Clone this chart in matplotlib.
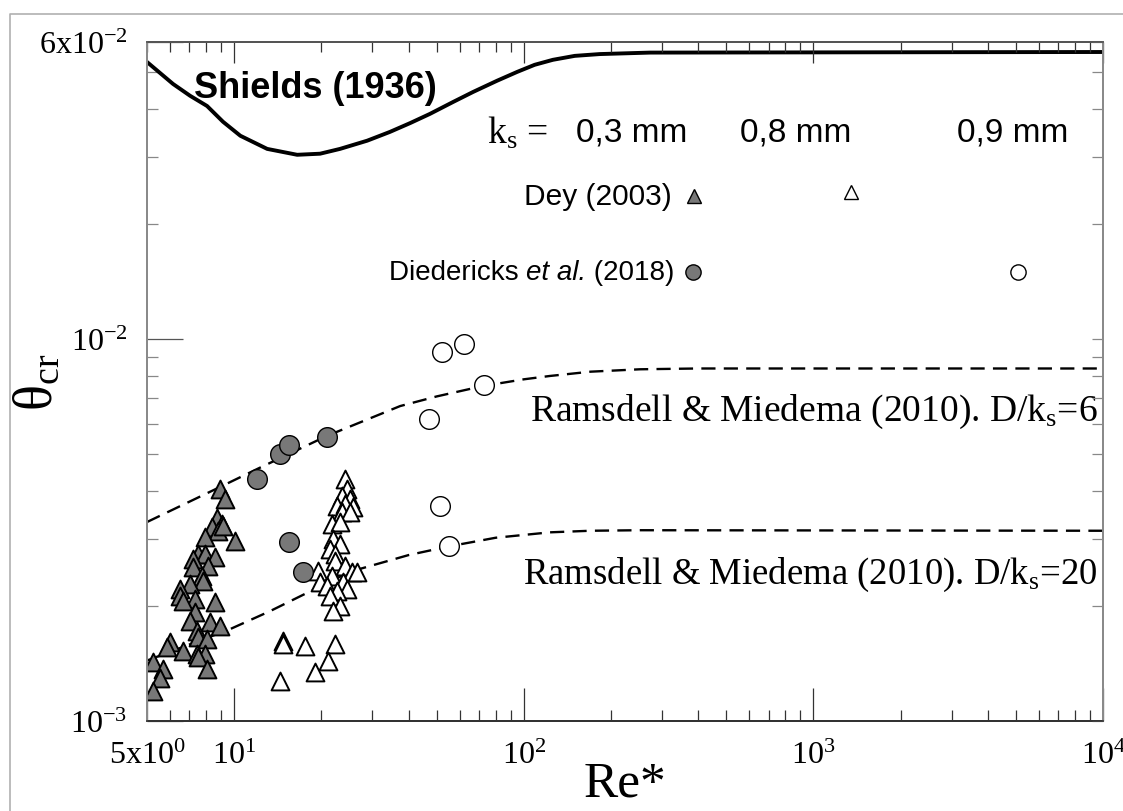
import matplotlib
matplotlib.use("Agg")
import matplotlib.pyplot as plt
from matplotlib.lines import Line2D

plt.rcParams["mathtext.fontset"] = "custom"
plt.rcParams["mathtext.rm"] = "Liberation Serif"
plt.rcParams["mathtext.it"] = "Liberation Serif:italic"

# Shields (1936) curve
shields_re = [5.0, 6.15, 7.04, 8.06, 9.15, 10.5, 13.0, 16.5, 19.8, 23.2, 28.8, 34.5, 40.5,
              47.4, 57.0, 66.8, 80.8, 94.8, 109, 126, 150, 183, 273, 1e4]
shields_theta = [0.0532, 0.0466, 0.0434, 0.0408, 0.0371, 0.0341, 0.0315, 0.0304, 0.0306,
                 0.0315, 0.0331, 0.0349, 0.0368, 0.0389, 0.0418, 0.0444, 0.0475, 0.0501,
                 0.0523, 0.0539, 0.0552, 0.0558, 0.0563, 0.0565]

# Ramsdell & Miedema (2010), D/ks = 6 and D/ks = 20
rm6_re = [5.0, 8.93, 12.0, 20.9, 37.4, 50, 72.3, 100, 123, 170, 252, 400, 1e4]
rm6_theta = [3.32e-3, 4.10e-3, 4.57e-3, 5.58e-3, 6.68e-3, 7.08e-3, 7.54e-3, 7.85e-3, 8.01e-3,
             8.22e-3, 8.34e-3, 8.38e-3, 8.38e-3]
rm20_re = [5.0, 9.67, 13.3, 25.1, 40, 55.6, 80, 123, 170, 252, 1e4]
rm20_theta = [1.44e-3, 1.74e-3, 1.94e-3, 2.46e-3, 2.72e-3, 2.87e-3, 3.02e-3, 3.12e-3,
              3.15e-3, 3.16e-3, 3.15e-3]

# Dey (2003), ks = 0.3 mm  (theta in units of 1e-3)
dey03_re = [8.93, 9.30, 8.72, 9.08, 8.38, 8.79, 9.15, 7.93, 10.07, 7.50, 7.93, 7.21, 8.59,
            7.21, 8.12, 7.74, 7.80, 7.04, 6.50, 6.50, 7.33, 8.59, 6.66, 7.33, 7.04, 8.25,
            8.93, 7.44, 7.50, 8.06, 6.00, 5.86, 6.66, 7.44, 7.93, 7.50, 5.24, 5.68, 8.06,
            5.54, 5.24]
dey03_theta = [4.05, 3.82, 3.40, 3.28, 3.22, 3.15, 3.24, 3.03, 2.96, 2.74, 2.74, 2.66, 2.69,
               2.53, 2.55, 2.40, 2.33, 2.29, 2.22, 2.13, 2.09, 2.05, 2.06, 1.93, 1.83, 1.82,
               1.77, 1.72, 1.66, 1.64, 1.61, 1.56, 1.53, 1.50, 1.50, 1.47, 1.43, 1.37, 1.37,
               1.30, 1.20]

# Dey (2003), ks = 0.8 mm
dey08_re = [24.1, 24.5, 23.6, 25.1, 22.7, 24.1, 25.7, 23.6, 25.1, 21.8, 23.2, 21.9, 23.2,
            21.4, 22.3, 22.3, 24.1, 19.5, 21.8, 25.5, 26.6, 19.8, 23.8, 20.9, 24.5, 22.7,
            21.4, 23.2, 21.9, 14.7, 14.7, 17.6, 22.3, 21.1, 19.0, 14.4]
dey08_theta = [4.30, 4.05, 3.88, 3.82, 3.66, 3.70, 3.64, 3.53, 3.53, 3.28, 3.32, 3.00, 2.91,
               2.82, 2.74, 2.62, 2.55, 2.47, 2.40, 2.46, 2.46, 2.31, 2.31, 2.26, 2.22, 2.19,
               2.13, 2.00, 1.94, 1.62, 1.59, 1.57, 1.59, 1.44, 1.34, 1.27]

# Diedericks et al. (2018), ks = 0.3 mm and 0.9 mm
did03_re = [12.0, 14.4, 15.5, 20.9, 15.5, 17.3]
did03_theta = [4.30, 5.00, 5.28, 5.54, 2.94, 2.46]
did09_re = [52.2, 62.2, 72.9, 47.1, 51.4, 55.2]
did09_theta = [9.26, 9.71, 7.59, 6.18, 3.66, 2.87]

fig = plt.figure(figsize=(11.23, 8.12), dpi=100)
ax = fig.add_axes([0.1309, 0.1108, 0.8513, 0.8362])
ax.set_xscale("log")
ax.set_yscale("log")
ax.set_xlim(5, 1e4)
ax.set_ylim(1e-3, 6e-2)

grey = "#787878"
ax.plot(shields_re, shields_theta, color="black", lw=2.8, solid_joinstyle="round")
ax.plot(rm6_re, rm6_theta, color="black", lw=1.7, dashes=(6, 3.5))
ax.plot(rm20_re, rm20_theta, color="black", lw=1.7, dashes=(6, 3.5))

ax.scatter(dey03_re, [t * 1e-3 for t in dey03_theta], marker="^", s=165,
           facecolor=grey, edgecolor="black", linewidth=1.4, zorder=3)
ax.scatter(dey08_re, [t * 1e-3 for t in dey08_theta], marker="^", s=165,
           facecolor="white", edgecolor="black", linewidth=1.4, zorder=3)
ax.scatter(did03_re, [t * 1e-3 for t in did03_theta], marker="o", s=200,
           facecolor=grey, edgecolor="black", linewidth=1.0, zorder=4)
ax.scatter(did09_re, [t * 1e-3 for t in did09_theta], marker="o", s=200,
           facecolor="white", edgecolor="black", linewidth=1.0, zorder=4)

# axis ticks and labels
serif = "Liberation Serif"
ax.set_xticks([5, 10, 100, 1000, 10000])
ax.set_xticklabels([r"$\mathregular{5x10^{0}}$", r"$\mathregular{10^{1}}$", r"$\mathregular{10^{2}}$",
                    r"$\mathregular{10^{3}}$", r"$\mathregular{10^{4}}$"],
                   family=serif, fontsize=23)
ax.set_yticks([1e-3, 1e-2, 6e-2])
ax.set_yticklabels([r"$\mathregular{10^{-3}}$", r"$\mathregular{10^{-2}}$", r"$\mathregular{6x10^{-2}}$"],
                   family=serif, fontsize=23)
ax.tick_params(which="both", direction="in", top=False, right=False)
ax.tick_params(axis="x", which="major", length=24, width=0.9, color="#333333", pad=14)
ax.tick_params(axis="x", which="minor", length=8, width=0.9, color="#333333")
ax.tick_params(axis="y", which="major", length=26, width=0.9, color="#555555", pad=14)
ax.tick_params(axis="y", which="minor", length=8, width=0.9, color="#888888")
ax.minorticks_on()
ax.xaxis.set_minor_formatter(plt.NullFormatter())
ax.yaxis.set_minor_formatter(plt.NullFormatter())

ax.set_xlabel("Re*", family=serif, fontsize=37)
ax.xaxis.set_label_coords(0.5, -0.058)
ax.set_ylabel(r"$\mathrm{\theta_{cr}}$", fontsize=39)
ax.yaxis.set_label_coords(-0.088, 0.5)

# short ticks on the top and right sides
axt = ax.twiny()
axt.set_xscale("log")
axt.set_xlim(ax.get_xlim())
axt.tick_params(which="major", direction="in", length=15, width=0.9, color="#333333",
                labeltop=False, top=True, bottom=False)
axt.tick_params(which="minor", direction="in", length=7, width=0.9, color="#333333",
                top=True, bottom=False)
axr = ax.twinx()
axr.set_yscale("log")
axr.set_ylim(ax.get_ylim())
axr.tick_params(which="both", direction="in", length=8, width=0.9, color="#888888",
                labelright=False, right=True, left=False)
for a in (ax, axt, axr):
    a.spines["left"].set_color("#8a8a8a")
    a.spines["right"].set_color("#8a8a8a")
    a.spines["top"].set_color("#555555")
    a.spines["bottom"].set_color("#333333")
    for s in a.spines.values():
        s.set_linewidth(1.2)

# in-plot key
sans = "Liberation Sans"
tr = ax.transAxes
ax.text(0.1757, 0.9337, "Shields (1936)", transform=tr, family=sans, fontsize=26,
        fontweight="bold", ha="center", va="center")
ax.text(0.419, 0.8675, r"k$_\mathregular{s}$ =", transform=tr, family=serif, fontsize=27,
        ha="right", va="center")
ax.text(0.507, 0.8675, "0,3 mm", transform=tr, family=sans, fontsize=24, ha="center", va="center")
ax.text(0.679, 0.8675, "0,8 mm", transform=tr, family=sans, fontsize=24, ha="center", va="center")
ax.text(0.905, 0.8675, "0,9 mm", transform=tr, family=sans, fontsize=24, ha="center", va="center")
ax.text(0.549, 0.773, "Dey (2003)", transform=tr, family=sans, fontsize=21.5, ha="right", va="center")
t_year = ax.text(0.552, 0.661, " (2018)", transform=tr, family=sans, fontsize=20,
                 ha="right", va="center")
t_etal = ax.annotate("et al.", xy=(0, 0), xycoords=t_year, family=sans, fontsize=20,
                     style="italic", ha="right", va="bottom")
ax.annotate("Diedericks ", xy=(0, 0), xycoords=t_etal, family=sans, fontsize=20,
            ha="right", va="bottom")
ax.plot([0.572], [0.773], transform=tr, marker="^", ms=10, mfc=grey, mec="black", mew=1.0)
ax.plot([0.736], [0.779], transform=tr, marker="^", ms=10, mfc="white", mec="black", mew=1.0)
ax.plot([0.571], [0.661], transform=tr, marker="o", ms=11, mfc=grey, mec="black", mew=1.0)
ax.plot([0.911], [0.661], transform=tr, marker="o", ms=11, mfc="white", mec="black", mew=1.0)

ax.text(0.994, 0.4566, r"Ramsdell & Miedema (2010). D/k$_\mathregular{s}$=6", transform=tr,
        family=serif, fontsize=27, ha="right", va="center")
ax.text(0.994, 0.2165, r"Ramsdell & Miedema (2010). D/k$_\mathregular{s}$=20", transform=tr,
        family=serif, fontsize=26.5, ha="right", va="center")

# thin page frame
fig.add_artist(Line2D([0.009, 0.009, 1.0], [0.0, 0.982, 0.982], transform=fig.transFigure,
                      color="#b0b0b0", lw=1.2))

fig.savefig("out.png", dpi=100)
